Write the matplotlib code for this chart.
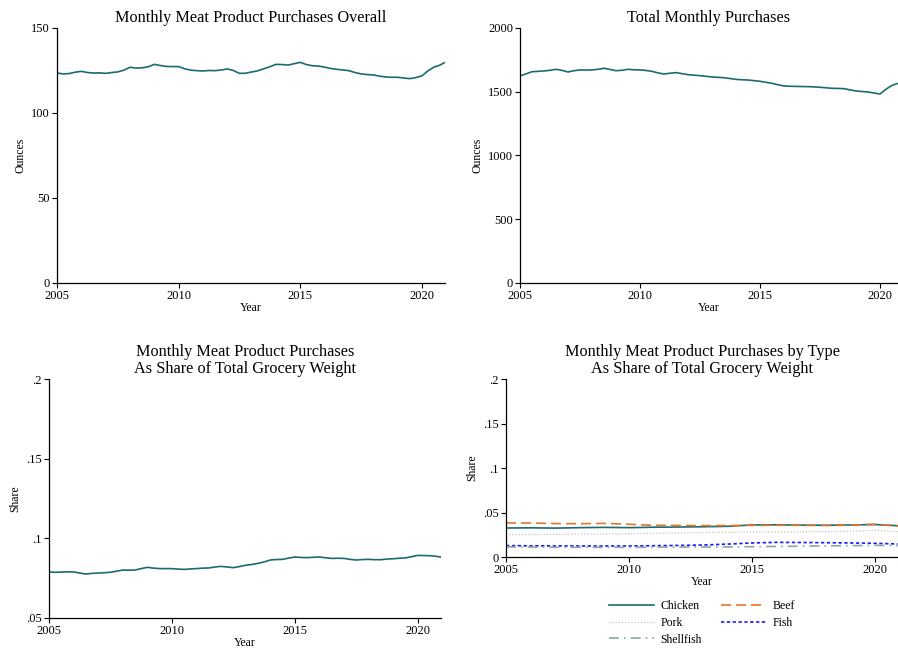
import numpy as np
import matplotlib
matplotlib.use("Agg")
import matplotlib.pyplot as plt

plt.rcParams['font.family'] = ['Liberation Serif', 'DejaVu Serif']

# quarterly time grid (decimal years), last point = Dec 2020
quarters = list(np.arange(2005, 2021, 0.25)) + [2020.92]
years = list(range(2005, 2021)) + [2020.92]

meat_oz = [123.5, 123.0, 123.2, 124.0, 124.5, 123.8, 123.5, 123.6,
           123.3, 123.8, 124.2, 125.2, 126.9, 126.4, 126.6, 127.2,
           128.6, 127.9, 127.4, 127.3, 127.3, 126.0, 125.2, 124.9,
           124.7, 125.0, 124.9, 125.3, 125.9, 125.0, 123.3, 123.4,
           124.1, 124.8, 126.0, 127.2, 128.6, 128.5, 128.2, 129.0,
           129.8, 128.5, 127.8, 127.6, 127.0, 126.2, 125.7, 125.3,
           124.9, 123.8, 123.0, 122.6, 122.4, 121.7, 121.2, 121.0,
           121.0, 120.6, 120.2, 120.8, 121.8, 124.8, 127.0, 128.2, 129.6]

total_oz = [1624, 1640, 1657, 1660, 1663, 1668, 1676, 1668,
            1655, 1665, 1671, 1670, 1671, 1676, 1684, 1675,
            1665, 1668, 1676, 1672, 1671, 1667, 1660, 1648,
            1639, 1645, 1650, 1642, 1634, 1630, 1626, 1621,
            1616, 1613, 1610, 1604, 1597, 1594, 1592, 1587,
            1582, 1574, 1566, 1555, 1545, 1543, 1542, 1541,
            1540, 1538, 1535, 1531, 1527, 1526, 1524, 1515,
            1506, 1502, 1498, 1490, 1482, 1520, 1550, 1566, 1570]

meat_share = [.0789, .0787, .0788, .0790, .0789, .0782, .0776, .0780,
              .0782, .0784, .0787, .0794, .0801, .0800, .0801, .0810,
              .0818, .0813, .0810, .0810, .0810, .0807, .0805, .0808,
              .0810, .0813, .0814, .0820, .0824, .0820, .0816, .0823,
              .0831, .0836, .0843, .0852, .0864, .0867, .0868, .0876,
              .0883, .0880, .0879, .0881, .0883, .0878, .0874, .0875,
              .0874, .0868, .0864, .0867, .0868, .0866, .0866, .0870,
              .0872, .0875, .0877, .0885, .0893, .0892, .0891, .0887, .0883]

chicken = [.0326, .0328, .0325, .0330, .0333, .0330, .0335, .0337, .0340,
           .0345, .0360, .0362, .0358, .0357, .0360, .0365, .0352]
beef = [.0383, .0382, .0376, .0374, .0378, .0368, .0356, .0355, .0353,
        .0354, .0356, .0357, .0356, .0354, .0357, .0368, .0348]
pork = [.0251, .0253, .0255, .0257, .0260, .0263, .0266, .0270, .0274,
        .0278, .0281, .0283, .0284, .0285, .0290, .0300, .0285]
fish = [.0128, .0126, .0125, .0124, .0124, .0124, .0127, .0130, .0135,
        .0145, .0158, .0165, .0163, .0161, .0158, .0154, .0146]
shellfish = [.0113, .0111, .0110, .0110, .0109, .0109, .0110, .0111, .0112,
             .0114, .0116, .0119, .0122, .0125, .0128, .0131, .0128]

xticks = [2005, 2010, 2015, 2020]
oz_ticks = [0, 50, 100, 150]
total_ticks = [0, 500, 1000, 1500, 2000]
share_ticks = [.05, .1, .15, .2]
share_labels = ['.05', '.1', '.15', '.2']
type_ticks = [0, .05, .1, .15, .2]
type_labels = ['0', '.05', '.1', '.15', '.2']

teal = '#1b6b70'

fig = plt.figure(figsize=(8.98, 6.48), dpi=100)
ax1 = fig.add_axes([0.0635, 0.5633, 0.4320, 0.3935])
ax2 = fig.add_axes([0.579, 0.5633, 0.421, 0.3935])
ax3 = fig.add_axes([0.0546, 0.0463, 0.4364, 0.3688])
ax4 = fig.add_axes([0.5635, 0.1404, 0.4365, 0.2747])


def style(ax, title, ylabel, xend):
    for s in ['top', 'right']:
        ax.spines[s].set_visible(False)
    for s in ['left', 'bottom']:
        ax.spines[s].set_linewidth(0.9)
    ax.set_title(title, fontsize=11.7, pad=4, linespacing=1.15)
    ax.set_xlabel('Year', fontsize=8.5, labelpad=0)
    ax.set_ylabel(ylabel, fontsize=8.5, labelpad=3.5)
    ax.set_xticks(xticks)
    ax.set_xlim(2005, xend)
    ax.tick_params(labelsize=9, length=3.5, width=0.8, pad=1.5)


ax1.plot(quarters, meat_oz, color=teal, lw=1.2)
style(ax1, 'Monthly Meat Product Purchases Overall', 'Ounces', 2020.95)
ax1.set_ylim(0, 150)
ax1.set_yticks(oz_ticks)

ax2.plot(quarters, total_oz, color=teal, lw=1.2)
style(ax2, 'Total Monthly Purchases', 'Ounces', 2020.75)
ax2.set_ylim(0, 2000)
ax2.set_yticks(total_ticks)

ax3.plot(quarters, meat_share, color=teal, lw=1.2)
style(ax3, 'Monthly Meat Product Purchases\nAs Share of Total Grocery Weight',
      'Share', 2020.94)
ax3.set_ylim(.05, .2)
ax3.set_yticks(share_ticks)
ax3.set_yticklabels(share_labels)

l_ch, = ax4.plot(years, chicken, color=teal, lw=1.2, label='Chicken')
l_be, = ax4.plot(years, beef, color='#e8742a', lw=1.2, ls=(0, (6, 3)), label='Beef')
l_po, = ax4.plot(years, pork, color='#c4c4c4', lw=0.9, ls=(0, (1, 1.5)), label='Pork')
l_fi, = ax4.plot(years, fish, color='#1a1aff', lw=1.2, ls=(0, (2, 1.5)), label='Fish')
l_sh, = ax4.plot(years, shellfish, color='#8fa89f', lw=1.2, ls=(0, (6, 3, 1, 3)), label='Shellfish')
style(ax4, 'Monthly Meat Product Purchases by Type\nAs Share of Total Grocery Weight',
      'Share', 2020.93)
ax4.set_ylim(0, .2)
ax4.set_yticks(type_ticks)
ax4.set_yticklabels(type_labels)
ax4.legend([l_ch, l_po, l_sh, l_be, l_fi],
           ['Chicken', 'Pork', 'Shellfish', 'Beef', 'Fish'],
           ncol=2, loc='upper center', bbox_to_anchor=(0.5, -0.18),
           frameon=False, fontsize=8.5, handlelength=3.8, handletextpad=0.6,
           columnspacing=1.6, labelspacing=0.42)

fig.savefig('out.png', dpi=100)
